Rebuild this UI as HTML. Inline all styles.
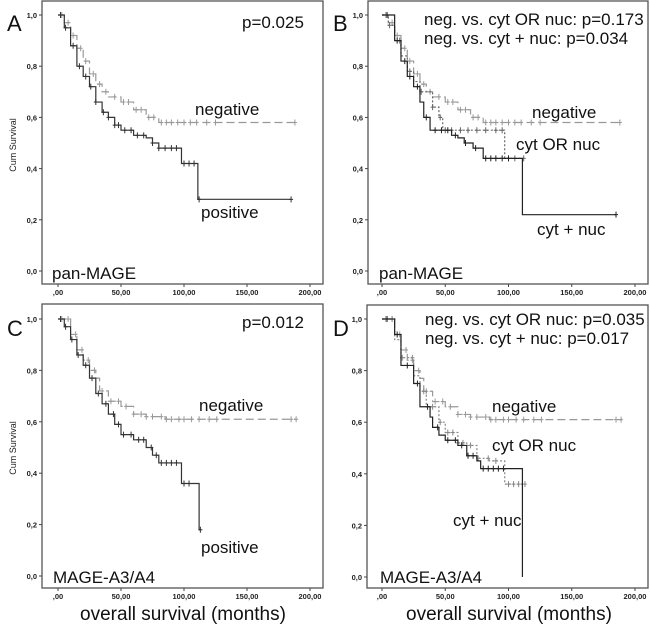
<!DOCTYPE html>
<html><head><meta charset="utf-8"><style>
body{margin:0;background:#fff;}
svg{display:block;font-family:"Liberation Sans",sans-serif;}
.tk{font-size:7.5px;font-weight:bold;fill:#222;}
.lb{font-size:17px;fill:#111;}
</style></head><body>
<svg id="c" width="650" height="626" viewBox="0 0 650 626"></svg>
<script>
// ---- data: step times and survival values, censor times ----
const aNegT=[0,5,10,15,20,25,30,35,40,50,60,70,80,188];
const aNegS=[1,0.97,0.92,0.87,0.82,0.77,0.73,0.70,0.68,0.66,0.63,0.60,0.58,0.58];
const aNegC=[3,8,12,18,22,28,33,38,45,52,56,62,66,72,76,82,86,90,95,100,105,110,118,125,188];
const aPosT=[0,5,10,15,20,25,30,35,40,45,50,60,70,75,80,98,111,185];
const aPosS=[1,0.95,0.88,0.80,0.76,0.72,0.66,0.62,0.60,0.57,0.55,0.53,0.52,0.50,0.48,0.42,0.28,0.28];
const aPosC=[2,6,12,17,22,26,30,36,40,45,48,53,58,63,68,75,80,85,90,94,100,104,108,112,185];
const bNuT=[0,5,10,15,20,25,30,40,45,48,97,112];
const bNuS=[1,0.96,0.90,0.84,0.78,0.74,0.70,0.64,0.60,0.55,0.44,0.44];
const bNuC=[6,14,22,31,40,46,50,55,62,68,75,82,90,95,100,105,112];
const bCnT=[0,10,15,20,25,30,33,38,55,60,65,72,80,111,185];
const bCnS=[1,0.90,0.82,0.76,0.72,0.66,0.60,0.55,0.53,0.52,0.50,0.48,0.44,0.22,0.22];
const bCnC=[4,12,18,22,28,35,42,47,52,58,66,74,82,86,90,95,100,185];
const cNegT=[0,10,15,20,25,30,33,40,50,60,70,85,189];
const cNegS=[1,0.94,0.88,0.84,0.80,0.77,0.72,0.68,0.66,0.63,0.62,0.61,0.61];
const cNegC=[3,8,14,19,24,29,35,42,48,54,60,66,70,75,82,86,90,96,100,106,112,120,126,185,189];
const cPosT=[0,5,10,15,20,25,30,35,40,45,50,60,70,75,80,98,112,113];
const cPosS=[1,0.97,0.92,0.86,0.82,0.77,0.71,0.67,0.63,0.59,0.55,0.53,0.50,0.47,0.44,0.36,0.18,0.18];
const cPosC=[2,6,11,16,22,27,32,38,44,48,52,58,64,68,74,78,82,86,90,94,100,104,113];
const dNuT=[0,10,15,25,30,35,45,50,60,67,75,85,97,113];
const dNuS=[1,0.92,0.85,0.78,0.72,0.66,0.60,0.56,0.52,0.51,0.46,0.45,0.36,0.36];
const dNuC=[8,16,24,33,40,46,52,56,60,64,70,76,84,90,100,104,108,113];
const dCnT=[0,10,15,25,30,38,40,45,50,60,67,75,78,111];
const dCnS=[1,0.94,0.82,0.75,0.66,0.62,0.58,0.55,0.53,0.51,0.47,0.45,0.42,0.0];
const dCnC=[4,12,20,28,36,44,52,58,63,68,72,80,84,88,92,96];
const xTicks=[",00","50,00","100,00","150,00","200,00"];
const yTicks=["0,0","0,2","0,4","0,6","0,8","1,0"];

const NS="http://www.w3.org/2000/svg";
const svg=document.getElementById('c');
function el(t,a,p){const e=document.createElementNS(NS,t);for(const k in a)e.setAttribute(k,a[k]);(p||svg).appendChild(e);return e;}
function txt(x,y,s,cls,name,extra){const e=el('text',Object.assign({x:x,y:y,class:cls},extra||{}));e.textContent=s;


return e;}

function panel(P){
  const g=el('g',{});
  
  
  const fr=el('rect',{x:P.fx,y:P.fy,width:P.fw,height:P.fh,fill:'none',stroke:'#555','stroke-width':1.3},g);
  
  
  const sx=t=>P.x0+(P.x1-P.x0)*t/200, sy=v=>P.y0+(P.y1-P.y0)*v;
  yTicks.forEach((l,i)=>{const y=sy(i/5);
    el('line',{x1:P.fx-3,x2:P.fx,y1:y,y2:y,stroke:'#444'},g);
    txt(P.fx-5,y+3,l,'tk','y-tick-label',{'text-anchor':'end'});});
  xTicks.forEach((l,i)=>{const x=sx(i*50);
    el('line',{x1:x,x2:x,y1:P.fy+P.fh,y2:P.fy+P.fh+3,stroke:'#444'},g);
    txt(x,P.fy+P.fh+11,l,'tk','x-tick-label',{'text-anchor':'middle'});});
  P.series.forEach(s=>{
    const T=s.t,S=s.s;let d='M'+sx(T[0])+','+sy(S[0]);
    for(let i=1;i<T.length;i++){d+='H'+sx(T[i])+'V'+sy(S[i]);}
    const p=el('path',{d:d,fill:'none',stroke:s.col,'stroke-width':1.2,'stroke-dasharray':s.dash||'none'},g);
    
    
    s.c.forEach(c=>{let v=S[0];for(let i=0;i<T.length;i++){if(T[i]<=c)v=S[i];}
      const m=el('path',{d:'M'+(sx(c)-2)+','+sy(v)+'h4M'+sx(c)+','+(sy(v)-3)+'v6',stroke:s.col,'stroke-width':1},g);
      
      });
  });
}
const A={x0:58,x1:310,y0:271,y1:15,fx:42,fy:1,fw:281,fh:283};
const B={x0:382,x1:635,y0:271,y1:15,fx:368,fy:1,fw:280,fh:283};
const C={x0:58,x1:310,y0:576,y1:319,fx:42,fy:304,fw:281,fh:284};
const D={x0:382,x1:635,y0:577,y1:319,fx:367,fy:305,fw:281,fh:283};
panel(Object.assign({name:'panel-a',series:[
 {t:aNegT,s:aNegS,c:aNegC,col:'#999',dash:'8 4',name:'negative'},
 {t:aPosT,s:aPosS,c:aPosC,col:'#333',name:'positive'}]},A));
panel(Object.assign({name:'panel-b',series:[
 {t:aNegT,s:aNegS,c:aNegC,col:'#999',dash:'8 4',name:'negative'},
 {t:bNuT,s:bNuS,c:bNuC,col:'#666',dash:'2 2',name:'cyt-or-nuc'},
 {t:bCnT,s:bCnS,c:bCnC,col:'#222',name:'cyt-plus-nuc'}]},B));
panel(Object.assign({name:'panel-c',series:[
 {t:cNegT,s:cNegS,c:cNegC,col:'#999',dash:'8 4',name:'negative'},
 {t:cPosT,s:cPosS,c:cPosC,col:'#333',name:'positive'}]},C));
panel(Object.assign({name:'panel-d',series:[
 {t:cNegT,s:cNegS,c:cNegC,col:'#999',dash:'8 4',name:'negative'},
 {t:dNuT,s:dNuS,c:dNuC,col:'#888',dash:'2 2',name:'cyt-or-nuc'},
 {t:dCnT,s:dCnS,c:dCnC,col:'#222',name:'cyt-plus-nuc'}]},D));

// text labels
txt(7,31,'A','lb','panel-letter-a',{style:'font-size:22px'});
txt(333,31,'B','lb','panel-letter-b',{style:'font-size:22px'});
txt(7,336,'C','lb','panel-letter-c',{style:'font-size:22px'});
txt(333,336,'D','lb','panel-letter-d',{style:'font-size:22px'});
txt(0,0,'Cum Survival','tk','y-axis-title-a',{transform:'translate(16,145) rotate(-90)','text-anchor':'middle',style:'font-size:9px;font-weight:normal'});
txt(0,0,'Cum Survival','tk','y-axis-title-c',{transform:'translate(16,448) rotate(-90)','text-anchor':'middle',style:'font-size:9px;font-weight:normal'});
txt(242,28,'p=0.025','lb','p-value-a');
txt(195,115,'negative','lb','label-negative-a');
txt(201,218,'positive','lb','label-positive-a');
txt(52,279,'pan-MAGE','lb','marker-name-a');
txt(424,25,'neg. vs. cyt OR nuc: p=0.173','lb','p-value-b1');
txt(424,44,'neg. vs. cyt + nuc: p=0.034','lb','p-value-b2');
txt(532,118,'negative','lb','label-negative-b');
txt(516,150,'cyt OR nuc','lb','label-cyt-or-nuc-b');
txt(537,235,'cyt + nuc','lb','label-cyt-plus-nuc-b');
txt(379,279,'pan-MAGE','lb','marker-name-b');
txt(242,328,'p=0.012','lb','p-value-c');
txt(199,411,'negative','lb','label-negative-c');
txt(201,553,'positive','lb','label-positive-c');
txt(53,583,'MAGE-A3/A4','lb','marker-name-c');
txt(425,325,'neg. vs. cyt OR nuc: p=0.035','lb','p-value-d1');
txt(425,344,'neg. vs. cyt + nuc: p=0.017','lb','p-value-d2');
txt(492,412,'negative','lb','label-negative-d');
txt(492,451,'cyt OR nuc','lb','label-cyt-or-nuc-d');
txt(453,526,'cyt + nuc','lb','label-cyt-plus-nuc-d');
txt(380,583,'MAGE-A3/A4','lb','marker-name-d');
txt(183,620,'overall survival (months)','lb','x-axis-title-c',{'text-anchor':'middle',style:'font-size:19px'});
txt(509,620,'overall survival (months)','lb','x-axis-title-d',{'text-anchor':'middle',style:'font-size:19px'});
</script>
</body></html>
